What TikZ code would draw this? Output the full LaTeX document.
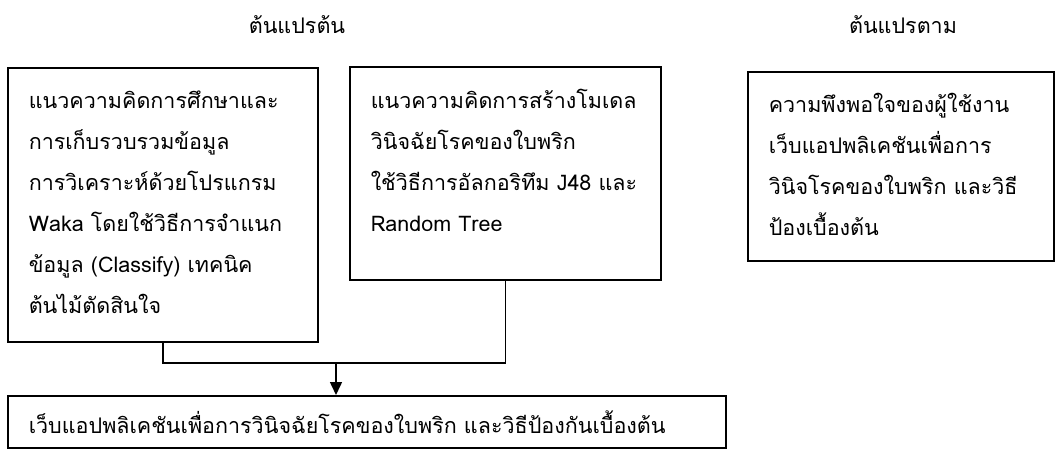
\documentclass[tikz,border=0pt]{standalone}
\usepackage{fontspec}
\setmainfont{Loma}[Script=Thai]
\usetikzlibrary{arrows.meta}
\hyphenpenalty=10000

\tikzset{
  box/.style={draw, line width=1.5pt, anchor=north west, align=left,
    inner xsep=21pt, inner ysep=0pt,
    font=\fontsize{21.5}{41}\selectfont},
  heading/.style={font=\fontsize{21.5}{26}\selectfont},
  link/.style={line width=1.5pt},
}

\begin{document}
\begin{tikzpicture}[x=1pt,y=-1pt]
  \useasboundingbox (0,0) rectangle (1060,455);

  % headings
  \node [heading] (indep) at (297,25) {ต้นแปรต้น};
  \node [heading] (dep) at (903,25) {ต้นแปรตาม};

  % independent variables
  \node [box, text width=268pt, text height=41pt, text depth=233pt] (study) at (7,67)
    {แนวความคิดการศึกษาและ\\การเก็บรวบรวมข้อมูล\\การวิเคราะห์ด้วยโปรแกรม\\Waka~โดยใช้วิธีการจำแนก\\ข้อมูล~(Classify)~เทคนิค\\ต้นไม้ตัดสินใจ};
  \node [box, text width=269pt, text height=42pt, text depth=171pt] (model) at (349,66)
    {แนวความคิดการสร้างโมเดล\\วินิจฉัยโรคของใบพริก\\ใช้วิธีการอัลกอริทึม~J48~และ\\Random~Tree};

  % dependent variable
  \node [box, text width=264pt, text height=41pt, text depth=148pt] (satisfy) at (747,71)
    {ความพึงพอใจของผู้ใช้งาน\\เว็บแอปพลิเคชันเพื่อการ\\วินิจโรคของใบพริก~และวิธี\\ป้องเบื้องต้น};

  % result
  \node [box, text width=676pt, text height=38pt, text depth=14pt] (webapp) at (7,395)
    {เว็บแอปพลิเคชันเพื่อการวินิจฉัยโรคของใบพริก และวิธีป้องกันเบื้องต้น};

  \coordinate (join) at (336,363);
  \draw [link] (study.south) |- (join) -| (model.south);
  \draw [link, -{Triangle[length=13pt,width=12pt]}] (join) -- (webapp.north -| join);
\end{tikzpicture}
\end{document}
